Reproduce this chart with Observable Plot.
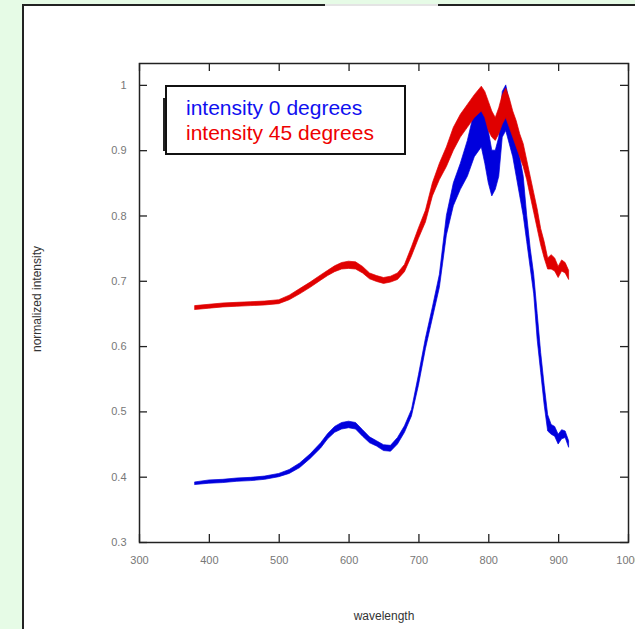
<!DOCTYPE html>
<html><head><meta charset="utf-8">
<script src="https://cdn.jsdelivr.net/npm/d3@7"></script>
<script src="https://cdn.jsdelivr.net/npm/@observablehq/plot@0.6"></script>
<style>
html,body{margin:0;padding:0;background:#e6fbe6;}
#wrap{position:relative;width:635px;height:629px;overflow:hidden;font-family:"Liberation Sans",Arial,sans-serif;}
#panel{position:absolute;left:22px;top:4px;width:640px;height:640px;background:#fff;border-left:2px solid #222;border-top:2px solid #222;}
#gap{position:absolute;left:325px;top:4px;width:113px;height:2px;background:#e4e4e4;}
#chart{position:absolute;left:0;top:0;}
#legend{position:absolute;left:165px;top:85px;width:237px;height:66px;border:2px solid #111;background:#fff;}
#legbar{position:absolute;left:163px;top:98px;width:2px;height:53px;background:#222;}
#legend div{position:absolute;left:19px;font-size:21px;line-height:25px;white-space:nowrap;}
</style></head>
<body>
<div id="wrap">
  <div id="panel"></div>
  <div id="gap"></div>
  <div id="chart"></div>
  <div id="legbar"></div>
  <div id="legend"></div>
</div>
<script>
// wavelengths (nm)
const wavelength = [380,400,420,440,460,480,500,515,530,545,560,570,580,590,600,610,620,630,640,650,660,670,680,690,700,710,720,730,740,750,760,770,780,790,795,800,805,810,815,820,825,830,835,840,845,850,855,860,865,870,875,880,885,890,895,900,905,910,915];
// intensity 0 degrees: lower / upper edge of the noisy trace
const blueLo = [.388,.390,.391,.393,.394,.396,.400,.405,.414,.428,.444,.458,.468,.473,.475,.473,.462,.452,.447,.440,.439,.450,.468,.493,.540,.596,.643,.690,.770,.815,.840,.860,.890,.905,.880,.850,.830,.840,.860,.920,.930,.910,.890,.860,.830,.800,.760,.720,.680,.610,.560,.510,.470,.465,.462,.450,.458,.460,.445];
const blueHi = [.392,.395,.396,.398,.399,.401,.405,.411,.421,.435,.452,.466,.477,.483,.485,.483,.472,.461,.455,.449,.448,.460,.478,.503,.556,.612,.660,.710,.800,.850,.880,.915,.960,.985,.960,.930,.900,.900,.920,.990,1.000,.975,.950,.930,.890,.860,.800,.750,.710,.650,.590,.540,.495,.480,.477,.465,.472,.470,.455];
// intensity 45 degrees
const redLo = [.656,.658,.660,.661,.662,.663,.665,.671,.680,.690,.701,.708,.714,.718,.719,.718,.712,.703,.699,.696,.698,.702,.714,.738,.765,.790,.830,.855,.875,.900,.920,.935,.950,.960,.950,.930,.920,.915,.925,.940,.950,.935,.920,.905,.890,.875,.855,.830,.805,.780,.755,.735,.718,.718,.715,.705,.715,.712,.702];
const redHi = [.662,.664,.666,.667,.668,.669,.671,.678,.688,.698,.709,.716,.723,.728,.730,.729,.722,.712,.708,.705,.707,.712,.725,.752,.781,.808,.850,.880,.905,.935,.955,.970,.985,.998,.990,.975,.960,.950,.965,.985,.995,.980,.960,.945,.925,.910,.885,.860,.835,.810,.780,.760,.735,.740,.735,.722,.732,.728,.716];

const seriesNames = ["intensity 0 degrees", "intensity 45 degrees"];
const seriesColors = ["#0000dd", "#e00000"];
const legendColors = ["#1010f0", "#ee0000"];

const xTicks = [300,400,500,600,700,800,900,1000];
const xTickLabels = ["300","400","500","600","700","800","900","1000"];
const yTicks = [0.3,0.4,0.5,0.6,0.7,0.8,0.9,1.0];
const yTickLabels = ["0.3","0.4","0.5","0.6","0.7","0.8","0.9","1"];
const xDomain = [300, 1000];
const yDomain = [0.3, 1.0335];

const blue = wavelength.map((w,i)=>({w, lo: blueLo[i], hi: blueHi[i]}));
const red = wavelength.map((w,i)=>({w, lo: redLo[i], hi: redHi[i]}));

const W = 635, H = 629, mL = 139, mR = 7, mT = 63, mB = 87;
const innerW = W - mL - mR, innerH = H - mT - mB, tickLen = 8;
const tickStyle = {stroke: "#222", strokeWidth: 1.3};

const chart = Plot.plot({
  width: W, height: H,
  marginLeft: mL, marginRight: mR, marginTop: mT, marginBottom: mB,
  style: {background: "transparent", fontFamily: "'Liberation Sans', Arial, sans-serif"},
  x: {domain: xDomain},
  y: {domain: yDomain},
  marks: [
    Plot.areaY(blue, {x: "w", y1: "lo", y2: "hi", fill: seriesColors[0], stroke: seriesColors[0], strokeWidth: 0.7}),
    Plot.areaY(red, {x: "w", y1: "lo", y2: "hi", fill: seriesColors[1], stroke: seriesColors[1], strokeWidth: 0.7}),
    Plot.frame({stroke: "#222", strokeWidth: 1.5}),
    Plot.tickX(xTicks, {x: d => d, insetTop: innerH - tickLen, ...tickStyle}),
    Plot.tickX(xTicks, {x: d => d, insetBottom: innerH - tickLen, ...tickStyle}),
    Plot.tickY(yTicks, {y: d => d, insetRight: innerW - tickLen, ...tickStyle}),
    Plot.tickY(yTicks, {y: d => d, insetLeft: innerW - tickLen, ...tickStyle}),
    Plot.axisX({ticks: xTicks, tickSize: 0, tickPadding: 14, tickFormat: (d,i) => xTickLabels[xTicks.indexOf(d)], fontSize: 11, fill: "#777", label: null}),
    Plot.axisY({ticks: yTicks, tickSize: 0, tickPadding: 13, tickFormat: (d,i) => yTickLabels[yTicks.findIndex(t => Math.abs(t-d) < 1e-9)], fontSize: 11, fill: "#777", label: null}),
    Plot.text(["wavelength"], {frameAnchor: "bottom", dy: 77, fontSize: 12, fill: "#333", textAnchor: "middle"}),
    Plot.text(["normalized intensity"], {frameAnchor: "left", dx: -102, dy: -4, rotate: -90, textAnchor: "middle", fontSize: 12, fill: "#333"})
  ]
});
document.getElementById("chart").appendChild(chart);

const leg = document.getElementById("legend");
seriesNames.forEach((name, i) => {
  const d = document.createElement("div");
  d.textContent = name;
  d.style.top = (8 + i * 25) + "px";
  d.style.color = legendColors[i];
  leg.appendChild(d);
});
</script>
</body></html>
